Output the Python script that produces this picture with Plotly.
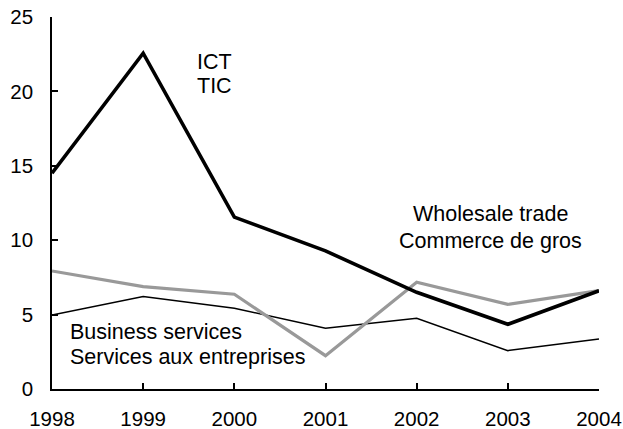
import plotly.graph_objects as go

years = [1998, 1999, 2000, 2001, 2002, 2003, 2004]
ict = [14.5, 22.57, 11.55, 9.28, 6.5, 4.35, 6.6]
wholesale = [7.93, 6.88, 6.37, 2.24, 7.17, 5.69, 6.61]
business = [4.98, 6.21, 5.43, 4.08, 4.75, 2.58, 3.36]
y_ticks = [0, 5, 10, 15, 20, 25]

FONT = "Liberation Sans, Arial, sans-serif"

fig = go.Figure()
fig.add_trace(go.Scatter(x=years, y=business, mode="lines",
                         line=dict(color="black", width=1.5), name="Business services"))
fig.add_trace(go.Scatter(x=years, y=wholesale, mode="lines",
                         line=dict(color="#999999", width=3.2), name="Wholesale trade"))
fig.add_trace(go.Scatter(x=years, y=ict, mode="lines",
                         line=dict(color="black", width=3.6), name="ICT"))

labels = [
    ("ICT", 1999.57, 22.0, "left"),
    ("TIC", 1999.57, 20.35, "left"),
    ("Wholesale trade", 2002.81, 11.76, "center"),
    ("Commerce de gros", 2002.81, 9.95, "center"),
    ("Business services", 1998.17, 3.83, "left"),
    ("Services aux entreprises", 1998.17, 2.14, "left"),
]
for txt, lx, ly, anc in labels:
    fig.add_annotation(x=lx, y=ly, xref="x", yref="y", text=txt,
                       showarrow=False, xanchor=anc, yanchor="middle",
                       font=dict(size=21.5, color="black", family=FONT))

fig.update_layout(
    width=623, height=429,
    margin=dict(l=52, r=24, t=17, b=40),
    paper_bgcolor="white", plot_bgcolor="white",
    showlegend=False,
    font=dict(family=FONT, size=20.5, color="black"),
)
fig.update_xaxes(range=[1998, 2004], tickvals=years, ticktext=[str(y) for y in years],
                 showline=True, linecolor="black", linewidth=1.5,
                 ticks="inside", ticklen=6, tickwidth=1.5, tickcolor="black",
                 showgrid=False, zeroline=False, ticklabelstandoff=11,
                 automargin=False, ticklabeloverflow="allow")
fig.update_yaxes(range=[0, 25], tickvals=y_ticks,
                 showline=True, linecolor="black", linewidth=1.5,
                 ticks="inside", ticklen=6, tickwidth=1.5, tickcolor="black",
                 showgrid=False, zeroline=False, ticklabelstandoff=13,
                 automargin=False, ticklabeloverflow="allow")

fig.write_html("out.html", config={"displayModeBar": False},
               post_script="document.body.style.margin='0';document.body.style.overflow='hidden';")
